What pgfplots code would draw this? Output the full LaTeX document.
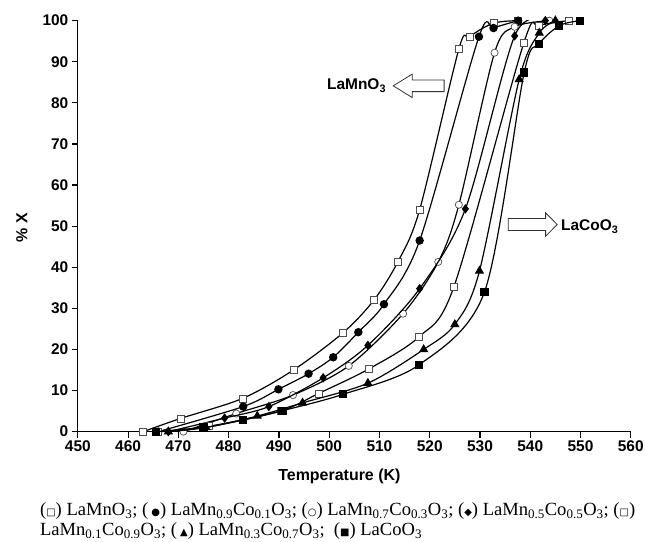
\documentclass[border=0pt]{standalone}
\usepackage{fontspec}
\setmainfont{Liberation Serif}
\newfontfamily\sansf{Liberation Sans}
\newfontfamily\symf{DejaVu Sans}
\usepackage{pgfplots}
\pgfplotsset{compat=1.18}
\newcommand{\sym}[1]{{\symf\fontsize{10}{10}\selectfont #1}}
\begin{document}
\begin{tikzpicture}
\begin{axis}[
 at={(0,0)}, anchor=south west, scale only axis, width=554pt, height=411.8pt,
 xmin=450, xmax=560, ymin=0, ymax=100,
 xtick={450,460,...,560}, ytick={0,10,...,100},
 axis x line*=bottom, axis y line*=left,
 tick align=outside, major tick length=6pt,
 axis line style={line width=1.2pt},
 tick style={line width=1.2pt, black},
 /pgf/number format/assume math mode=true,
 ticklabel style={font=\sansf\bfseries\fontsize{15.5}{15.5}\selectfont},
 xlabel={Temperature (K)}, ylabel={\% X},
 label style={font=\sansf\bfseries\fontsize{16}{16}\selectfont},
 xlabel style={at={(axis description cs:0.473,-0.110)}, anchor=center},
 ylabel style={at={(axis description cs:-0.101,0.497)}, anchor=center},
 clip mode=individual,
]
% LaMnO3 (open squares)
\addplot[black, solid, line width=1.2pt, smooth, mark=square*, mark size=3.5pt, mark options={solid, fill=white, draw=black!70, line width=0.7pt}] coordinates {
(463,0) (470.4,3.2) (482.8,8.1) (492.9,15) (502.8,24.1) (508.9,32) (513.7,41.4) (518,54) (525.8,93.1) (527.9,96.1) (532.7,99.4) (537.6,100)};
% LaMn0.9Co0.1O3 (filled circles)
\addplot[black, solid, line width=1.2pt, smooth, mark=*, mark size=3.6pt, mark options={solid, fill=black, draw=black}] coordinates {
(466,0) (482.9,6.1) (489.9,10.3) (495.9,14.1) (500.8,18.1) (505.8,24.2) (510.9,31) (518,46.5) (529.8,96.1) (532.7,98.2) (537.6,100)};
% LaMn0.7Co0.3O3 (open circles)
\addplot[black, solid, line width=1.2pt, smooth, mark=*, mark size=3.6pt, mark options={solid, fill=white, draw=black!70, line width=0.7pt}] coordinates {
(471,0) (481.5,4.4) (492.8,8.9) (503.9,16) (514.7,28.7) (521.7,41.3) (525.8,55.2) (532.9,92.2) (536.9,98.5) (543.8,100)};
% LaMn0.5Co0.5O3 (diamonds)
\addplot[black, solid, line width=1.2pt, smooth, mark=diamond*, mark size=3.8pt, mark options={solid, fill=black, draw=black}] coordinates {
(468,0) (479.2,3.3) (488,6.1) (498.8,13.1) (507.7,21) (518,34.8) (527.1,54.2) (536.9,96.3) (543,100)};
% LaMn0.1Co0.9O3 (open squares)
\addplot[black, solid, line width=1.2pt, smooth, mark=square*, mark size=3.5pt, mark options={solid, fill=white, draw=black!70, line width=0.7pt}] coordinates {
(466,0) (476,1.3) (490.3,5) (497.9,9.3) (507.8,15.2) (517.9,23.1) (524.8,35.2) (538.7,94.5) (541.7,98.7) (547.7,100)};
% LaMn0.3Co0.7O3 (triangles)
\addplot[black, solid, line width=1.2pt, smooth, mark=triangle*, mark size=4.2pt, mark options={solid, fill=black, draw=black}] coordinates {
(468,0) (475.5,1) (485.7,3.8) (494.7,7) (507.7,11.8) (518.8,20) (525,26.1) (529.9,39.1) (537.8,85.7) (541.8,97) (545,100)};
% LaCoO3 (filled squares)
\addplot[black, solid, line width=1.2pt, smooth, mark=square*, mark size=3.5pt, mark options={solid, fill=black, draw=black}] coordinates {
(465.5,0) (475,1) (482.8,2.8) (490.7,5.1) (502.8,9.1) (517.8,16.2) (530.9,34) (538.8,87.4) (541.7,94.3) (545.8,98.8) (549.9,100)};
\end{axis}
% arrows and labels
\draw[line width=0.8pt, fill=white, draw=black!80] (316pt,346.5pt) -- (335pt,358.2pt) -- (335pt,352.3pt) -- (367pt,352.3pt) -- (367pt,340.7pt) -- (335pt,340.7pt) -- (335pt,334.8pt) -- cycle;
\node[anchor=east, inner sep=0, font=\sansf\bfseries\fontsize{15.5}{15.5}\selectfont] at (309pt,346.5pt) {LaMnO\textsubscript{3}};
\draw[line width=0.8pt, fill=white, draw=black!80] (480.3pt,207.5pt) -- (468.7pt,219.2pt) -- (468.7pt,213.5pt) -- (431.3pt,213.5pt) -- (431.3pt,201.5pt) -- (468.7pt,201.5pt) -- (468.7pt,195.8pt) -- cycle;
\node[anchor=west, inner sep=0, font=\sansf\bfseries\fontsize{15.5}{15.5}\selectfont] at (484pt,205.5pt) {LaCoO\textsubscript{3}};
% caption
\node[anchor=north west, align=left, inner sep=0, font=\fontsize{18.6}{20}\selectfont] at (-38pt,-71pt) {%
(\sym{□}) LaMnO\textsubscript{3}; (\,\sym{●}) LaMn\textsubscript{0.9}Co\textsubscript{0.1}O\textsubscript{3}; (\sym{○}) LaMn\textsubscript{0.7}Co\textsubscript{0.3}O\textsubscript{3}; (\sym{◆}) LaMn\textsubscript{0.5}Co\textsubscript{0.5}O\textsubscript{3}; (\sym{□})\\
LaMn\textsubscript{0.1}Co\textsubscript{0.9}O\textsubscript{3}; (\,\sym{▲}) LaMn\textsubscript{0.3}Co\textsubscript{0.7}O\textsubscript{3};\ \ (\sym{■}) LaCoO\textsubscript{3}};
\path (-78pt,-110.5pt) rectangle (569pt,432.5pt);
\end{tikzpicture}
\end{document}
